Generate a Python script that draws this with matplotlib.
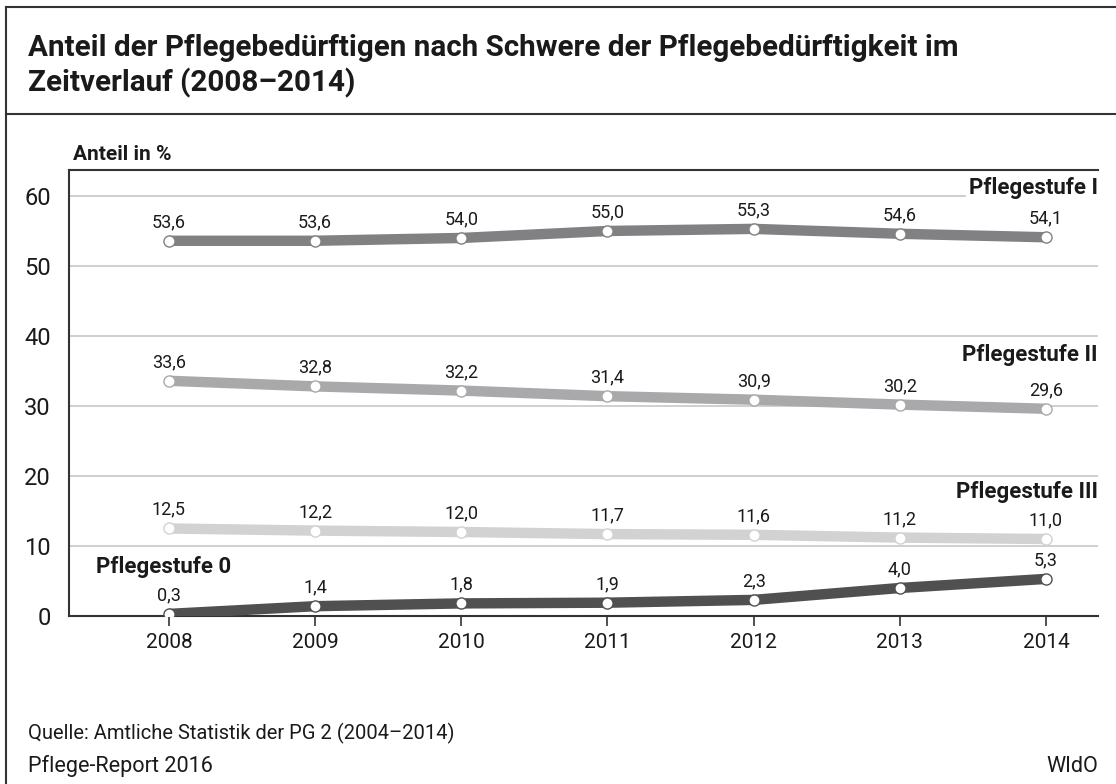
import matplotlib
matplotlib.use("Agg")
import matplotlib.pyplot as plt
from matplotlib.lines import Line2D

years = [2008, 2009, 2010, 2011, 2012, 2013, 2014]
stufe_I = [53.6, 53.6, 54.0, 55.0, 55.3, 54.6, 54.1]
stufe_II = [33.6, 32.8, 32.2, 31.4, 30.9, 30.2, 29.6]
stufe_III = [12.5, 12.2, 12.0, 11.7, 11.6, 11.2, 11.0]
stufe_0 = [0.3, 1.4, 1.8, 1.9, 2.3, 4.0, 5.3]
series_names = ["Pflegestufe I", "Pflegestufe II", "Pflegestufe III", "Pflegestufe 0"]
y_ticks = [0, 10, 20, 30, 40, 50, 60]

plt.rcParams['font.family'] = ['Roboto', 'DejaVu Sans']

W, H = 1116, 784
fig = plt.figure(figsize=(W / 100, H / 100), dpi=100)
fig.patch.set_facecolor("white")
renderer = fig.canvas.get_renderer()

def fx(px):
    return px / W

def fy(py):
    return 1 - py / H

def fit(t, target_px):
    bb = t.get_window_extent(renderer=renderer)
    t.set_fontsize(t.get_fontsize() * target_px / bb.width)

TXT = "#1a1a1a"

# frame
fig.add_artist(Line2D([fx(6), 1], [fy(7), fy(7)], color="#333333", lw=1.5))
fig.add_artist(Line2D([fx(6), fx(6)], [0, fy(7)], color="#333333", lw=1.5))
fig.add_artist(Line2D([fx(6), 1], [fy(114), fy(114)], color="#333333", lw=1.5))

# title
t1 = fig.text(fx(28), fy(48), "Anteil der Pflegebedürftigen nach Schwere der Pflegebedürftigkeit im",
              fontsize=20, fontweight="bold", color=TXT, va="center", ha="left")
fit(t1, 927)
fig.text(fx(28), fy(83), "Zeitverlauf (2008–2014)",
         fontsize=t1.get_fontsize(), fontweight="bold", color=TXT, va="center", ha="left")

ax = fig.add_axes([fx(69), fy(616), fx(1098) - fx(69), fy(170) - fy(616)])
ax.set_xlim(2007.316, 2014.356)
ax.set_ylim(0, 63.71)

ax.spines["right"].set_visible(False)
for s in ["left", "top", "bottom"]:
    ax.spines[s].set_color("#333333")
    ax.spines[s].set_linewidth(1.5)

ax.set_yticks(y_ticks)
ax.set_yticklabels([str(t) for t in y_ticks], fontsize=17, color=TXT)
ax.tick_params(axis="y", length=0, pad=13)
ax.set_xticks(years)
ax.set_xticklabels([str(y) for y in years], fontsize=15, color=TXT)
ax.tick_params(axis="x", length=7, width=1.2, color="#333333", pad=5)

for t in y_ticks[1:]:
    ax.axhline(t, color="#cccccc", lw=1.3, zorder=1)

colors = ["#818183", "#a9a9ab", "#d2d2d2", "#505050"]
data = [stufe_I, stufe_II, stufe_III, stufe_0]
for vals, c in zip(data, colors):
    ax.plot(years, vals, color=c, lw=7.5, solid_capstyle="butt", zorder=3)
    ax.plot(years, vals, ls="none", marker="o", ms=8, mfc="white", mec=c, mew=1.0, zorder=4)
    for x, v in zip(years, vals):
        ax.annotate(f"{v:.1f}".replace(".", ","), (x, v), xytext=(0, 7),
                    textcoords="offset points", ha="center", va="bottom",
                    fontsize=13, color=TXT, zorder=5)

bbox = dict(facecolor="white", edgecolor="none", pad=2)
ytr = ax.get_yaxis_transform()
ax.text(1.0, 61.1, series_names[0], transform=ytr, ha="right", va="center",
        fontsize=16, fontweight="bold", color=TXT, bbox=bbox, zorder=6)
ax.text(1.0, 37.3, series_names[1], transform=ytr, ha="right", va="center",
        fontsize=16, fontweight="bold", color=TXT, bbox=bbox, zorder=6)
ax.text(1.0, 17.7, series_names[2], transform=ytr, ha="right", va="center",
        fontsize=16, fontweight="bold", color=TXT, bbox=bbox, zorder=6)
ax.text((96 - 69) / (1098 - 69), 7.0, series_names[3], transform=ytr,
        ha="left", va="center", fontsize=16, fontweight="bold", color=TXT, zorder=6)

fig.text(fx(73), fy(154), "Anteil in %", fontsize=15, fontweight="bold", color=TXT,
         ha="left", va="center")

q = fig.text(fx(28), fy(733), "Quelle: Amtliche Statistik der PG 2 (2004–2014)", fontsize=13,
             color=TXT, ha="left", va="center")
fit(q, 428)
p = fig.text(fx(28), fy(766), "Pflege-Report 2016", fontsize=16, color=TXT, ha="left", va="center")
fit(p, 186)
fig.text(fx(1098), fy(766), "WIdO", fontsize=p.get_fontsize(), color=TXT, ha="right", va="center")

fig.savefig("out.png", dpi=100, facecolor="white")
